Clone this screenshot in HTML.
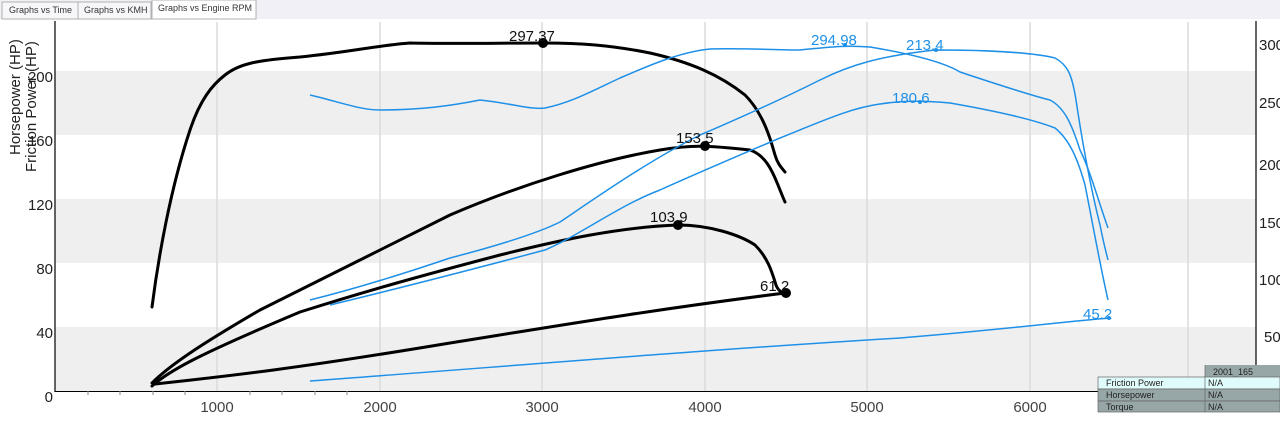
<!DOCTYPE html>
<html><head><style>
body{margin:0;width:1280px;height:431px;overflow:hidden;background:#fff;font-family:"Liberation Sans",sans-serif}
</style></head><body>
<svg width="1280" height="431" xmlns="http://www.w3.org/2000/svg" font-family="Liberation Sans, sans-serif">
<rect x="0" y="0" width="1280" height="19" fill="#f0f0f6"/>
<rect x="2" y="2" width="76" height="17" fill="#f7f7fa" stroke="#b0b0b0"/>
<rect x="78" y="2" width="73" height="17" fill="#f7f7fa" stroke="#b0b0b0"/>
<rect x="152" y="0" width="104" height="19" fill="#fff" stroke="#b0b0b0"/>
<text x="9" y="13" font-size="9" fill="#333">Graphs vs Time</text>
<text x="84" y="13" font-size="9" fill="#333">Graphs vs KMH</text>
<text x="158" y="11" font-size="9" fill="#333">Graphs vs Engine RPM</text>
<rect x="55" y="71" width="1201" height="64" fill="#efefef"/>
<rect x="55" y="199" width="1201" height="64" fill="#efefef"/>
<rect x="55" y="327" width="1201" height="64" fill="#efefef"/>
<g stroke="#dcdcdc" stroke-width="1.5">
<line x1="217" y1="22" x2="217" y2="391"/><line x1="380" y1="22" x2="380" y2="391"/><line x1="542" y1="22" x2="542" y2="391"/><line x1="705" y1="22" x2="705" y2="391"/><line x1="867" y1="22" x2="867" y2="391"/><line x1="1030" y1="22" x2="1030" y2="391"/><line x1="1188" y1="22" x2="1188" y2="391"/>
</g>
<line x1="55" y1="21" x2="55" y2="392" stroke="#000" stroke-width="1.2"/>
<line x1="55" y1="391.5" x2="1100" y2="391.5" stroke="#000" stroke-width="1"/>
<line x1="1256" y1="21" x2="1256" y2="365" stroke="#000" stroke-width="1.2"/>
<g stroke="#888" stroke-width="1">
<line x1="88" y1="391" x2="88" y2="395"/><line x1="120" y1="391" x2="120" y2="395"/><line x1="153" y1="391" x2="153" y2="395"/><line x1="185" y1="391" x2="185" y2="395"/><line x1="250" y1="391" x2="250" y2="395"/><line x1="282" y1="391" x2="282" y2="395"/><line x1="315" y1="391" x2="315" y2="395"/><line x1="347" y1="391" x2="347" y2="395"/>
</g>
<g font-size="15" fill="#222" text-anchor="end">
<text x="53" y="82">200</text><text x="53" y="146">160</text><text x="53" y="210">120</text><text x="53" y="274">80</text><text x="53" y="338">40</text><text x="53" y="402">0</text>
</g>
<g font-size="15" fill="#444" text-anchor="middle">
<text x="217" y="412">1000</text><text x="380" y="412">2000</text><text x="542" y="412">3000</text><text x="705" y="412">4000</text><text x="867" y="412">5000</text><text x="1030" y="412">6000</text>
</g>
<g font-size="15" fill="#222">
<text x="1259" y="50">300</text><text x="1259" y="108">250</text><text x="1259" y="170">200</text><text x="1259" y="228">150</text><text x="1259" y="285">100</text><text x="1264" y="342">50</text>
</g>
<text transform="translate(20,155) rotate(-90)" font-size="15" fill="#222">Horsepower (HP)</text>
<text transform="translate(36,172) rotate(-90)" font-size="15" fill="#222">Friction Power (HP)</text>
<g fill="none" stroke="#000" stroke-width="3" stroke-linejoin="round" stroke-linecap="round">
<path d="M152,307 C158,260 170,190 190,130 C200,100 212,85 225,75 C240,63 260,60 300,57 C350,52 380,45 410,43 C450,44 500,43 543,43 C580,43 610,45 650,53 C690,62 720,75 745,95 C765,115 772,145 775,155 C778,165 782,168 785,172"/>
<path d="M152,383 C170,365 200,345 260,310 C320,280 390,245 450,215 C520,185 600,160 660,150 C690,145 705,145 750,150 C765,155 772,170 778,185 C782,195 784,200 785,202"/>
<path d="M152,386 C170,370 200,354 300,312 C370,290 420,276 500,255 C560,240 620,227 678,225 C710,225 740,235 755,245 C768,258 772,272 776,285 C778,290 780,292 785,293"/>
<path d="M155,384 C230,376 300,368 450,343 C550,327 650,310 785,293"/>
</g>
<g fill="none" stroke="#1e90e8" stroke-width="1.5" stroke-linejoin="round">
<path d="M310,95 C340,102 360,110 380,110 C420,110 450,106 480,100 C510,103 530,110 545,108 C570,103 590,92 620,78 C650,65 680,52 710,49 C740,48 780,50 800,50 C830,47 845,45 870,47 C900,52 940,60 960,72 C990,82 1030,95 1050,100 C1065,108 1072,125 1080,150 C1090,170 1098,200 1108,228"/>
<path d="M310,300 C350,290 400,275 450,258 C500,245 540,232 560,222 C600,195 650,160 700,135 C740,118 780,100 820,80 C850,65 880,56 935,50 C980,50 1030,52 1055,58 C1068,65 1072,75 1076,100 C1082,140 1090,185 1100,225 C1104,245 1106,252 1108,260"/>
<path d="M330,305 C400,288 470,270 545,250 C580,235 620,205 660,190 C700,172 740,155 780,138 C820,122 850,108 880,104 C900,101 920,100 950,103 C990,110 1030,118 1055,128 C1070,140 1078,160 1085,185 C1092,220 1100,265 1108,300"/>
<path d="M310,381 C500,367 700,350 900,338 C1000,330 1060,322 1110,318"/>
</g>
<g fill="#000"><circle cx="543" cy="43" r="5"/><circle cx="705" cy="146" r="5"/><circle cx="678" cy="225" r="5"/><circle cx="786" cy="293" r="5"/></g>
<g fill="#1e90e8"><circle cx="845" cy="45" r="2"/><circle cx="936" cy="50" r="2"/><circle cx="920" cy="102" r="2"/><circle cx="1109" cy="318" r="2"/></g>
<g font-size="15" fill="#111"><text x="509" y="41">297.37</text><text x="676" y="143">153.5</text><text x="650" y="222">103.9</text><text x="760" y="291">61.2</text></g>
<g font-size="15" fill="#1e90e8"><text x="811" y="45">294.98</text><text x="906" y="50">213.4</text><text x="892" y="103">180.6</text><text x="1083" y="319">45.2</text></g>
<rect x="1205" y="365" width="75" height="12" fill="#97a6a6"/>
<text x="1213" y="375" font-size="9" fill="#222">2001_165</text>
<rect x="1098" y="377" width="182" height="12" fill="#e0fbfb" stroke="#666" stroke-width="0.7"/>
<rect x="1098" y="389" width="182" height="12" fill="#97a6a6" stroke="#666" stroke-width="0.7"/>
<rect x="1098" y="401" width="182" height="11" fill="#97a6a6" stroke="#666" stroke-width="0.7"/>
<line x1="1205" y1="365" x2="1205" y2="412" stroke="#666" stroke-width="0.7"/>
<g font-size="9" fill="#222"><text x="1106" y="386">Friction Power</text><text x="1106" y="398">Horsepower</text><text x="1106" y="410">Torque</text><text x="1208" y="386">N/A</text><text x="1208" y="398">N/A</text><text x="1208" y="410">N/A</text></g>
</svg>
</body></html>
